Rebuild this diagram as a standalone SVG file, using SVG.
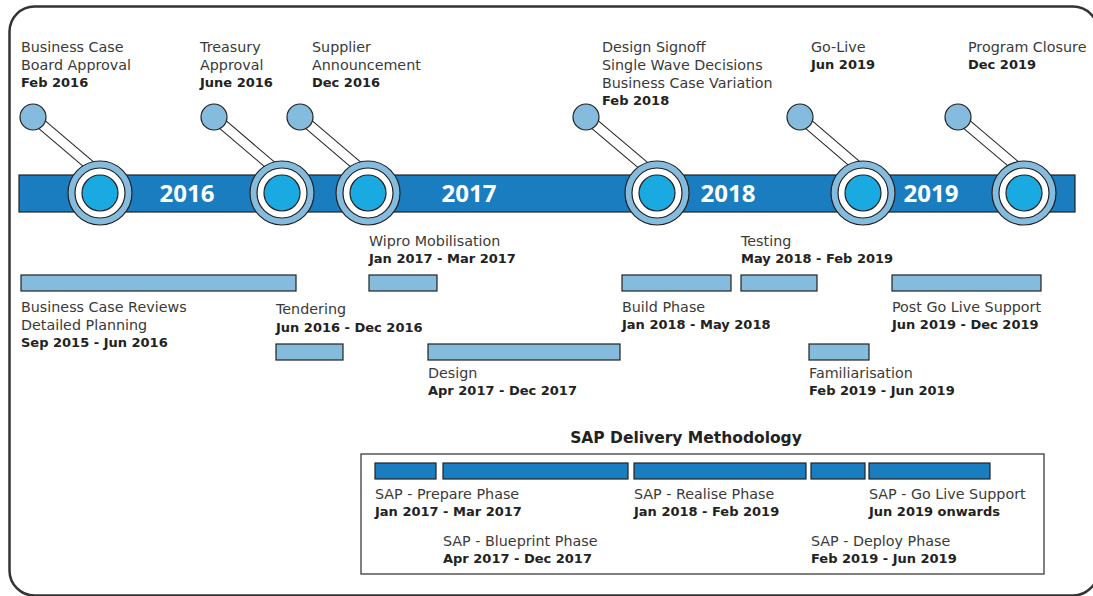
<svg xmlns="http://www.w3.org/2000/svg" width="1093" height="596" viewBox="0 0 1093 596">
<style>
.t{font-family:"DejaVu Sans","Liberation Sans",sans-serif;font-size:14.3px;fill:#3a3a3a}
.b{font-family:"DejaVu Sans","Liberation Sans",sans-serif;font-size:13px;font-weight:bold;fill:#222}
.yr{font-family:"Open Sans","Liberation Sans",sans-serif;font-size:24px;font-weight:bold;fill:#fff;text-anchor:middle}
.ttl{font-family:"DejaVu Sans","Liberation Sans",sans-serif;font-size:15.5px;font-weight:bold;fill:#222;text-anchor:middle}
.gb{fill:#85bbdd;stroke:#222;stroke-width:1.2}
.sb{fill:#1a7dbf;stroke:#222;stroke-width:1.2}
.ro{fill:#85bbdd;stroke:#222;stroke-width:1.2}
.rw{fill:#fff;stroke:#222;stroke-width:1.2}
.ri{fill:#1aa9e1;stroke:#222;stroke-width:1.2}
.pin{fill:#85bbdd;stroke:#222;stroke-width:1.2}
.bo{stroke:#222;stroke-width:11;stroke-linecap:butt}
.bi{stroke:#fff;stroke-width:9;stroke-linecap:butt}
</style>
<rect x="9.5" y="6.5" width="1088.5" height="589" rx="25" fill="#fff" stroke="#333" stroke-width="2.5"/>

<g id="timeline-bar">
<rect x="19" y="175" width="1056" height="37" fill="#1a7dbf" stroke="#222" stroke-width="1.2"/>
</g>

<g id="connectors">
<line class="bo" x1="33" y1="117" x2="100" y2="174"/><line class="bi" x1="33" y1="117" x2="100" y2="174"/>
<line class="bo" x1="214" y1="117" x2="282" y2="175"/><line class="bi" x1="214" y1="117" x2="282" y2="175"/>
<line class="bo" x1="300" y1="117" x2="368" y2="175"/><line class="bi" x1="300" y1="117" x2="368" y2="175"/>
<line class="bo" x1="586" y1="117" x2="657" y2="177"/><line class="bi" x1="586" y1="117" x2="657" y2="177"/>
<line class="bo" x1="800" y1="117" x2="863" y2="171"/><line class="bi" x1="800" y1="117" x2="863" y2="171"/>
<line class="bo" x1="958" y1="117" x2="1024" y2="173"/><line class="bi" x1="958" y1="117" x2="1024" y2="173"/>
</g>

<g id="m-feb2016">
<circle class="ro" cx="100" cy="193" r="32"/><circle class="rw" cx="100" cy="193" r="25"/><circle class="ri" cx="100" cy="193" r="18"/>
<circle class="pin" cx="33" cy="117" r="13"/>
<text class="t" x="21" y="52">Business Case</text><text class="t" x="21" y="70">Board Approval</text><text class="b" x="21" y="87">Feb 2016</text>
</g>
<g id="m-jun2016">
<circle class="ro" cx="282" cy="193" r="32"/><circle class="rw" cx="282" cy="193" r="25"/><circle class="ri" cx="282" cy="193" r="18"/>
<circle class="pin" cx="214" cy="117" r="13"/>
<text class="t" x="200" y="52">Treasury</text><text class="t" x="200" y="70">Approval</text><text class="b" x="200" y="87">June 2016</text>
</g>
<g id="m-dec2016">
<circle class="ro" cx="368" cy="193" r="32"/><circle class="rw" cx="368" cy="193" r="25"/><circle class="ri" cx="368" cy="193" r="18"/>
<circle class="pin" cx="300" cy="117" r="13"/>
<text class="t" x="312" y="52">Supplier</text><text class="t" x="312" y="70">Announcement</text><text class="b" x="312" y="87">Dec 2016</text>
</g>
<g id="m-feb2018">
<circle class="ro" cx="657" cy="193" r="32"/><circle class="rw" cx="657" cy="193" r="25"/><circle class="ri" cx="657" cy="193" r="18"/>
<circle class="pin" cx="586" cy="117" r="13"/>
<text class="t" x="602" y="52">Design Signoff</text><text class="t" x="602" y="70">Single Wave Decisions</text><text class="t" x="602" y="88">Business Case Variation</text><text class="b" x="602" y="105">Feb 2018</text>
</g>
<g id="m-jun2019">
<circle class="ro" cx="863" cy="193" r="32"/><circle class="rw" cx="863" cy="193" r="25"/><circle class="ri" cx="863" cy="193" r="18"/>
<circle class="pin" cx="800" cy="117" r="13"/>
<text class="t" x="811" y="52">Go-Live</text><text class="b" x="811" y="69">Jun 2019</text>
</g>
<g id="m-dec2019">
<circle class="ro" cx="1024" cy="193" r="32"/><circle class="rw" cx="1024" cy="193" r="25"/><circle class="ri" cx="1024" cy="193" r="18"/>
<circle class="pin" cx="958" cy="117" r="13"/>
<text class="t" x="968" y="52">Program Closure</text><text class="b" x="968" y="69">Dec 2019</text>
</g>

<g id="years">
<text class="yr" x="187" y="202">2016</text>
<text class="yr" x="469" y="202">2017</text>
<text class="yr" x="728" y="202">2018</text>
<text class="yr" x="931" y="202">2019</text>
</g>

<g id="p-business-case">
<rect class="gb" x="21" y="275" width="275" height="16"/>
<text class="t" x="21" y="312">Business Case Reviews</text><text class="t" x="21" y="330">Detailed Planning</text><text class="b" x="21" y="347">Sep 2015 - Jun 2016</text>
</g>
<g id="p-tendering">
<rect class="gb" x="276" y="344" width="67" height="16"/>
<text class="t" x="276" y="314">Tendering</text><text class="b" x="276" y="332">Jun 2016 - Dec 2016</text>
</g>
<g id="p-wipro">
<rect class="gb" x="369" y="275" width="68" height="16"/>
<text class="t" x="369" y="246">Wipro Mobilisation</text><text class="b" x="369" y="263">Jan 2017 - Mar 2017</text>
</g>
<g id="p-design">
<rect class="gb" x="428" y="344" width="192" height="16"/>
<text class="t" x="428" y="378">Design</text><text class="b" x="428" y="395">Apr 2017 - Dec 2017</text>
</g>
<g id="p-build">
<rect class="gb" x="622" y="275" width="109" height="16"/>
<text class="t" x="622" y="312">Build Phase</text><text class="b" x="622" y="329">Jan 2018 - May 2018</text>
</g>
<g id="p-testing">
<rect class="gb" x="741" y="275" width="76" height="16"/>
<text class="t" x="741" y="246">Testing</text><text class="b" x="741" y="263">May 2018 - Feb 2019</text>
</g>
<g id="p-familiarisation">
<rect class="gb" x="809" y="344" width="60" height="16"/>
<text class="t" x="809" y="378">Familiarisation</text><text class="b" x="809" y="395">Feb 2019 - Jun 2019</text>
</g>
<g id="p-postgolive">
<rect class="gb" x="892" y="275" width="149" height="16"/>
<text class="t" x="892" y="312">Post Go Live Support</text><text class="b" x="892" y="329">Jun 2019 - Dec 2019</text>
</g>

<g id="sap-box">
<text class="ttl" x="686" y="443">SAP Delivery Methodology</text>
<rect x="361" y="454" width="683" height="120" fill="#fff" stroke="#555" stroke-width="1.5"/>
</g>
<g id="sap-prepare">
<rect class="sb" x="375" y="463" width="61" height="16"/>
<text class="t" x="375" y="499">SAP - Prepare Phase</text><text class="b" x="375" y="516">Jan 2017 - Mar 2017</text>
</g>
<g id="sap-blueprint">
<rect class="sb" x="443" y="463" width="185" height="16"/>
<text class="t" x="443" y="546">SAP - Blueprint Phase</text><text class="b" x="443" y="563">Apr 2017 - Dec 2017</text>
</g>
<g id="sap-realise">
<rect class="sb" x="634" y="463" width="172" height="16"/>
<text class="t" x="634" y="499">SAP - Realise Phase</text><text class="b" x="634" y="516">Jan 2018 - Feb 2019</text>
</g>
<g id="sap-deploy">
<rect class="sb" x="811" y="463" width="54" height="16"/>
<text class="t" x="811" y="546">SAP - Deploy Phase</text><text class="b" x="811" y="563">Feb 2019 - Jun 2019</text>
</g>
<g id="sap-golive">
<rect class="sb" x="869" y="463" width="121" height="16"/>
<text class="t" x="869" y="499">SAP - Go Live Support</text><text class="b" x="869" y="516">Jun 2019 onwards</text>
</g>
</svg>
